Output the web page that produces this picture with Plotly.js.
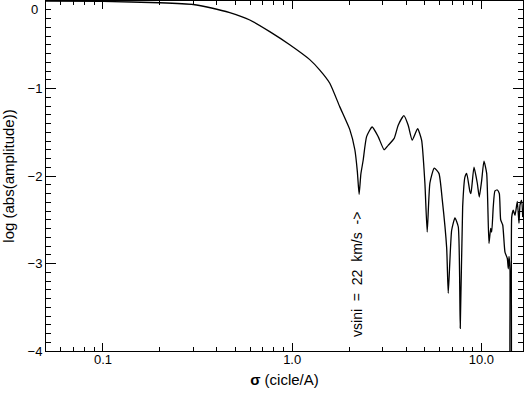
<!DOCTYPE html>
<html>
<head>
<meta charset="utf-8">
<script src="https://cdn.plot.ly/plotly-3.0.1.min.js"></script>
<style>
  html, body { margin: 0; padding: 0; background: #fff; }
  #chart { width: 525px; height: 393px; }
</style>
</head>
<body>
<div id="chart"></div>
<script>
'use strict';

// frequency (cycle/A) and log10 of the Fourier amplitude
const sigma = [
  0.05, 0.1, 0.2, 0.3, 0.375, 0.468, 0.597, 0.761, 0.971, 1.239, 1.400, 1.581, 1.786,
  2.017, 2.145, 2.211, 2.259, 2.307, 2.373, 2.474, 2.647, 2.849, 3.064, 3.217, 3.461,
  3.635, 3.895, 4.105, 4.310, 4.603, 4.833, 5.030, 5.173, 5.347, 5.636, 5.968, 6.213,
  6.556, 6.683, 6.966, 7.252, 7.550, 7.735, 7.965, 8.192, 8.364, 8.706, 8.810, 9.140,
  9.515, 9.750, 10.04, 10.32, 10.67, 10.97, 11.20, 11.34, 11.56, 11.80, 12.14, 12.44,
  12.65, 12.97, 13.33, 13.71, 13.88, 14.00, 14.17, 14.24, 14.32, 14.47, 14.75, 15.06,
  15.49, 15.81, 16.01, 16.34, 16.54
];
const logAmp = [
  -0.002, -0.005, -0.02, -0.04, -0.08, -0.134, -0.217, -0.35, -0.50, -0.67, -0.79, -0.94, -1.21,
  -1.47, -1.70, -1.95, -2.21, -1.98, -1.82, -1.55, -1.44, -1.55, -1.70, -1.65, -1.57,
  -1.42, -1.31, -1.42, -1.59, -1.46, -1.59, -2.08, -2.64, -2.08, -1.91, -1.97, -2.27,
  -2.82, -3.34, -2.62, -2.48, -2.58, -3.74, -2.35, -2.01, -1.97, -2.18, -2.20, -1.90,
  -2.08, -2.24, -2.05, -1.83, -1.97, -2.77, -2.60, -2.64, -2.35, -2.17, -2.16, -2.20,
  -2.50, -2.56, -2.87, -2.94, -3.06, -2.92, -3.07, -4.6, -4.6, -2.47, -2.39, -2.45,
  -2.29, -2.54, -2.33, -2.28, -2.47
];

// tick marks
const xTickVals = [0.1, 1, 10];
const xTickText = ['0.1', '1.0', '10.0'];
const xMinorVals = [0.06, 0.07, 0.08, 0.09, 0.2, 0.3, 0.4, 0.5, 0.6, 0.7, 0.8, 0.9,
  2, 3, 4, 5, 6, 7, 8, 9];
const yTickVals = [-1, -2, -3, -4];
const yTickText = ['\u22121', '\u22122', '\u22123', '\u22124'];

const font = 'Liberation Sans, Arial, Helvetica, sans-serif';

const data = [{
  x: sigma,
  y: logAmp,
  type: 'scatter',
  mode: 'lines',
  line: {color: '#000', width: 1.3, shape: 'spline', smoothing: 0.5},
  hoverinfo: 'none'
}];

const layout = {
  width: 525,
  height: 393,
  margin: {l: 46, r: 2, t: 1, b: 42, pad: 0},
  paper_bgcolor: '#fff',
  plot_bgcolor: '#fff',
  showlegend: false,
  font: {family: font, size: 13, color: '#000'},
  xaxis: {
    type: 'log',
    range: [Math.log10(0.05), Math.log10(16.6)],
    tickmode: 'array',
    tickvals: xTickVals,
    ticktext: xTickText,
    ticks: 'inside',
    ticklen: 8,
    tickwidth: 1,
    tickcolor: '#000',
    ticklabelstandoff: -4,
    minor: {
      tickmode: 'array',
      tickvals: xMinorVals,
      ticks: 'inside',
      ticklen: 4,
      tickwidth: 1,
      tickcolor: '#000',
      showgrid: false
    },
    showline: true,
    linecolor: '#000',
    linewidth: 1,
    mirror: 'allticks',
    showgrid: false,
    zeroline: false,
    tickfont: {family: font, size: 13, color: '#000'},
    title: {
      text: '<b>\u03c3</b> (cicle/A)',
      font: {family: font, size: 15, color: '#000'},
      standoff: 8
    }
  },
  yaxis: {
    range: [-4, 0],
    tickmode: 'array',
    tickvals: yTickVals,
    ticktext: yTickText,
    ticks: 'inside',
    ticklen: 10,
    tickwidth: 1,
    tickcolor: '#000',
    minor: {
      dtick: 0.1,
      ticks: 'inside',
      ticklen: 5,
      tickwidth: 1,
      tickcolor: '#000',
      showgrid: false
    },
    showline: true,
    linecolor: '#000',
    linewidth: 1,
    mirror: 'allticks',
    showgrid: false,
    zeroline: false,
    tickfont: {family: font, size: 13, color: '#000'},
    title: {
      text: 'log (abs(amplitude))',
      font: {family: font, size: 15, color: '#000'},
      standoff: 9
    }
  },
  annotations: [{
    // top label sits below its tick so it is not cut by the page edge
    xref: 'paper', yref: 'y',
    x: 0, y: 0,
    xanchor: 'right', yanchor: 'top',
    xshift: -6, yshift: 1,
    text: '0',
    showarrow: false,
    font: {family: font, size: 13, color: '#000'}
  }, {
    xref: 'x', yref: 'y',
    x: Math.log10(2.2),
    y: -3.12,
    text: 'vsini  =  22  km/s  ->',
    textangle: -90,
    showarrow: false,
    font: {family: font, size: 14, color: '#000'}
  }]
};

Plotly.newPlot('chart', data, layout, {displayModeBar: false, staticPlot: true});
</script>
</body>
</html>
